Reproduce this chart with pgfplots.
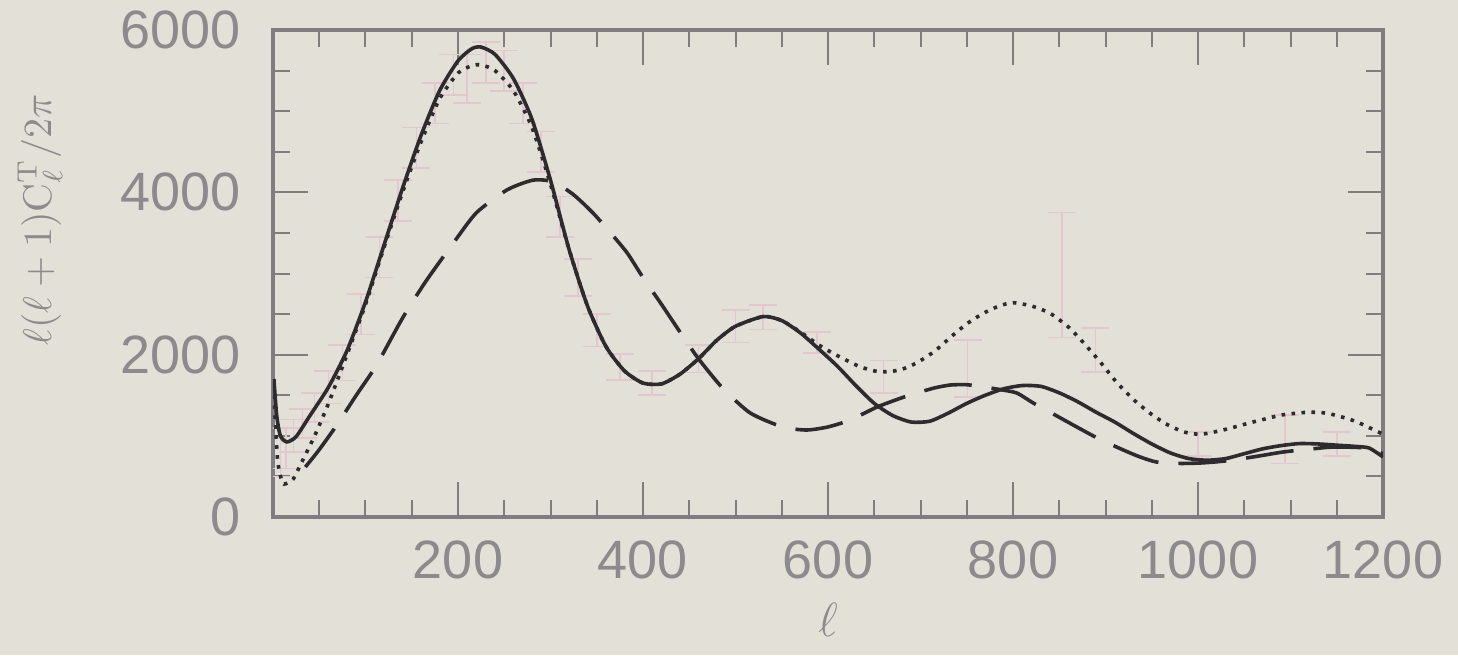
\documentclass[border=0pt]{standalone}
\usepackage[no-math]{fontspec}
\newfontfamily\tickfont{Liberation Sans}
\usepackage{pgfplots}
\pgfplotsset{compat=1.18}
\definecolor{bg}{RGB}{227,225,215}
\definecolor{axgrey}{RGB}{128,124,128}
\definecolor{txtgrey}{RGB}{140,138,140}
\definecolor{curve}{RGB}{45,43,45}
\definecolor{errpink}{RGB}{226,198,208}

\begin{document}
\begin{tikzpicture}
\fill[bg] (-68.25pt,-34.5pt) rectangle (296.25pt,129.25pt);
\useasboundingbox (-68.25pt,-34.5pt) rectangle (296.25pt,129.25pt);
\begin{axis}[
  at={(0,0)}, anchor=south west,
  scale only axis,
  width=277.5pt, height=121.75pt,
  xmin=0, xmax=1200, ymin=0, ymax=6000,
  xtick={200,400,...,1200},
  minor xtick={50,100,...,1150},
  ytick={0,2000,4000,6000},
  minor ytick={500,1000,...,5500},
  tick pos=both, tick align=inside,
  major tick length=8.75pt, minor tick length=4.25pt,
  axis line style={draw=axgrey, line width=1pt},
  every tick/.style={draw=axgrey, line width=0.5pt},
  /pgf/number format/assume math mode=true,
  /pgf/number format/1000 sep={},
  ticklabel style={font=\tickfont\fontsize{13.5}{16}\selectfont, text=txtgrey},
  xticklabel style={anchor=north, yshift=-2.5pt},
  yticklabel style={anchor=east, xshift=-4.5pt},
  clip=true,
]
% faint data points with error bars
\addplot[draw=none, mark=none, forget plot,
  error bars/.cd, y dir=both, y explicit,
  error bar style={draw=errpink, line width=0.4pt},
  error mark options={rotate=90, mark size=3.5pt, draw=errpink, line width=0.4pt}]
  table[x=l, y=v, y error=e] {
l v e
8 800 300
14 850 250
22 1000 200
32 1150 180
45 1350 180
60 1600 200
75 1900 220
95 2500 250
115 3200 250
135 3900 250
155 4550 250
175 5100 250
195 5450 250
210 5400 300
230 5600 250
250 5500 250
270 5100 250
290 4500 250
310 3700 250
330 2950 230
350 2300 200
375 1850 160
410 1650 150
460 1950 170
500 2350 200
530 2460 150
588 2150 130
660 1730 200
751 1830 350
853 2980 770
889 2060 270
1000 900 150
1094 960 300
1150 900 150
};
% solid
\addplot[curve, line width=0.9pt, smooth, tension=0.4] coordinates {
(1,1700) (4,1250) (8,1000) (15,925) (25,990) (40,1250) (60,1600) (80,2050)
(100,2650) (120,3350) (140,4050) (160,4700) (180,5250) (200,5620) (215,5770)
(225,5790) (240,5700) (260,5400) (280,4900) (300,4150) (320,3300) (340,2600)
(360,2100) (380,1800) (400,1650) (420,1640) (440,1760) (460,1950) (480,2180)
(500,2350) (530,2470) (550,2420) (570,2270) (590,2070) (610,1860) (630,1620)
(650,1400) (670,1250) (690,1170) (710,1180) (730,1280) (750,1400) (770,1500)
(790,1580) (810,1620) (830,1610) (850,1530) (870,1420) (890,1290) (910,1170)
(930,1030) (950,900) (970,790) (990,720) (1010,700) (1030,720) (1050,780)
(1070,840) (1090,880) (1110,905) (1130,900) (1150,885) (1170,870) (1185,850)
(1200,740)
};
% dotted
\addplot[curve, line width=0.9pt, smooth, tension=0.4, dash pattern=on 0.9pt off 1.6pt] coordinates {
(1,1500) (5,700) (10,430) (14,410) (22,470) (30,650) (45,1000) (60,1400)
(80,2000) (100,2620) (120,3320) (140,4000) (160,4620) (180,5150) (200,5470)
(215,5560) (225,5570) (240,5500) (260,5250) (280,4800) (300,4100) (320,3300)
(340,2600) (360,2100) (380,1800) (400,1650) (420,1640) (440,1760) (460,1950)
(480,2180) (500,2350) (530,2470) (550,2420) (570,2280) (590,2120) (605,2020)
(620,1930) (635,1850) (650,1800) (665,1790) (680,1820) (696,1900) (715,2040)
(732,2210) (750,2380) (768,2510) (785,2600) (800,2640) (820,2600) (840,2510)
(860,2340) (876,2150) (895,1900) (912,1660) (930,1450) (948,1280) (965,1150)
(984,1050) (1000,1020) (1010,1030) (1030,1080) (1056,1160) (1075,1215)
(1092,1260) (1118,1290) (1135,1285) (1150,1250) (1170,1180) (1189,1080)
(1200,1020)
};
% dashed
\addplot[curve, line width=0.9pt, smooth, tension=0.4, dash pattern=on 12pt off 5pt] coordinates {
(35,616) (50,830) (69,1133) (90,1500) (112,1873) (140,2450) (165,2900)
(195,3376) (220,3750) (253,4030) (281,4150) (303,4130) (325,3970) (346,3745)
(365,3500) (383,3252) (400,2950) (420,2620) (440,2279) (460,1950) (486,1589)
(516,1281) (551,1109) (577,1072) (600,1110) (624,1195) (653,1355) (680,1470)
(696,1528) (715,1590) (732,1626) (750,1630) (768,1602) (786,1570) (804,1528)
(822,1404) (845,1260) (869,1109) (890,980) (912,862) (935,750) (955,678)
(980,660) (1002,665) (1020,680) (1038,702) (1065,750) (1092,801) (1120,835)
(1146,862) (1182,850) (1200,780)
};
\end{axis}
\node[text=txtgrey, font=\fontsize{13}{15}\selectfont] at (138.75pt,-25.75pt) {$\ell$};
\node[text=txtgrey, rotate=90, font=\fontsize{10}{12}\selectfont] at (-58.25pt,74.3pt)
  {$\ell(\ell+1)\mathrm{C}^{\mathrm{T}}_{\ell}/2\pi$};
\end{tikzpicture}
\end{document}
